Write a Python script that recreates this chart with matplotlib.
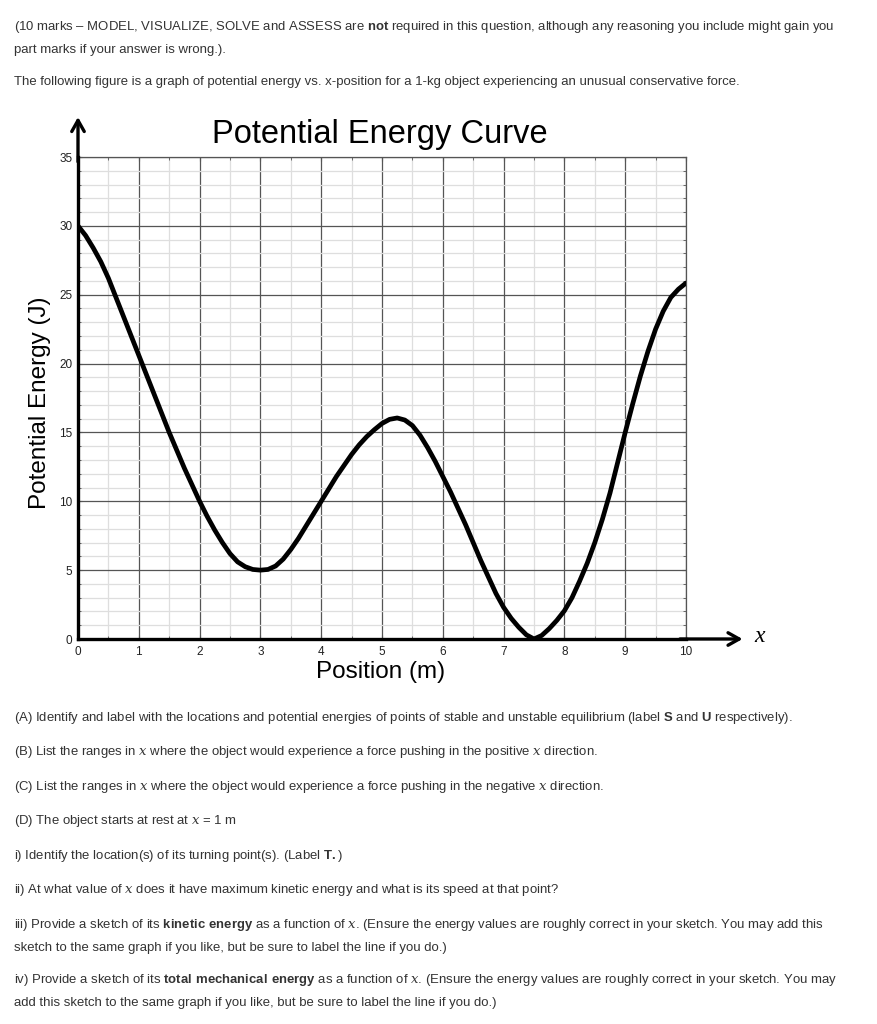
import numpy as np
import matplotlib.pyplot as plt
from matplotlib.ticker import MultipleLocator

# -----------------------------
# Data (every 1/8 m)
# -----------------------------
x_pos = [0, 0.125, 0.25, 0.375, 0.5, 0.625, 0.75, 0.875,
         1.0, 1.125, 1.25, 1.375, 1.5, 1.625, 1.75, 1.875,
         2.0, 2.125, 2.25, 2.375, 2.5, 2.625, 2.75, 2.875,
         3.0, 3.125, 3.25, 3.375, 3.5, 3.625, 3.75, 3.875,
         4.0, 4.125, 4.25, 4.375, 4.5, 4.625, 4.75, 4.875,
         5.0, 5.125, 5.25, 5.375, 5.5, 5.625, 5.75, 5.875,
         6.0, 6.125, 6.25, 6.375, 6.5, 6.625, 6.75, 6.875,
         7.0, 7.125, 7.25, 7.375, 7.5, 7.625, 7.75, 7.875,
         8.0, 8.125, 8.25, 8.375, 8.5, 8.625, 8.75, 8.875,
         9.0, 9.125, 9.25, 9.375, 9.5, 9.625, 9.75, 9.875, 10.0]
U_pot = [30.0, 29.3, 28.4, 27.4, 26.2, 24.8, 23.4, 22.0,
         20.6, 19.2, 17.8, 16.4, 15.0, 13.7, 12.4, 11.2,
         10.0, 8.9, 7.9, 7.0, 6.2, 5.6, 5.25, 5.05,
         5.0, 5.05, 5.3, 5.8, 6.5, 7.3, 8.2, 9.1,
         10.0, 10.9, 11.8, 12.6, 13.4, 14.1, 14.7, 15.2,
         15.65, 15.95, 16.05, 15.9, 15.5, 14.8, 13.9, 12.9,
         11.8, 10.7, 9.5, 8.3, 7.0, 5.7, 4.5, 3.3,
         2.3, 1.5, 0.85, 0.3, 0.0, 0.25, 0.75, 1.35,
         2.05, 3.0, 4.2, 5.5, 7.0, 8.7, 10.6, 12.8,
         15.0, 17.1, 19.1, 20.9, 22.5, 23.8, 24.8, 25.4, 25.85]

x_ticks = list(range(0, 11))
y_ticks = list(range(0, 36, 5))

header_lines = [
    r"(10 marks – MODEL, VISUALIZE, SOLVE and ASSESS are $\mathbf{not}$ required in this question, although any reasoning you include might gain you",
    "part marks if your answer is wrong.).",
    "The following figure is a graph of potential energy vs. x-position for a 1-kg object experiencing an unusual conservative force.",
]
question_lines = [
    (718, r"(A) Identify and label with the locations and potential energies of points of stable and unstable equilibrium (label $\mathbf{S}$ and $\mathbf{U}$ respectively)."),
    (752, r"(B) List the ranges in $x$ where the object would experience a force pushing in the positive $x$ direction."),
    (787, r"(C) List the ranges in $x$ where the object would experience a force pushing in the negative $x$ direction."),
    (821, r"(D) The object starts at rest at $x$ = 1 m"),
    (856, r"i) Identify the location(s) of its turning point(s). (Label $\mathbf{T.}$)"),
    (890, r"ii) At what value of $x$ does it have maximum kinetic energy and what is its speed at that point?"),
    (925, r"iii) Provide a sketch of its $\mathbf{kinetic\ energy}$ as a function of $x$. (Ensure the energy values are roughly correct in your sketch. You may add this"),
    (948, "sketch to the same graph if you like, but be sure to label the line if you do.)"),
    (980, r"iv) Provide a sketch of its $\mathbf{total\ mechanical\ energy}$ as a function of $x$. (Ensure the energy values are roughly correct in your sketch. You may"),
    (1003, "add this sketch to the same graph if you like, but be sure to label the line if you do.)"),
]

plt.rcParams['font.family'] = ['Liberation Sans', 'DejaVu Sans']
plt.rcParams['mathtext.fontset'] = 'custom'
plt.rcParams['mathtext.rm'] = 'Liberation Sans'
plt.rcParams['mathtext.bf'] = 'Liberation Sans:bold'
plt.rcParams['mathtext.it'] = 'DejaVu Serif:italic'

W, H = 878, 1024
fig = plt.figure(figsize=(W / 100, H / 100), dpi=100)

text_color = '#333333'
text_size = 9.45

# page text above the chart
for yy, line in zip([27, 50, 82], header_lines):
    fig.text(14 / W, 1 - yy / H, line, fontsize=text_size, color=text_color,
             va='center', ha='left')

# -----------------------------
# Chart
# -----------------------------
left, right = 78 / W, 686 / W
bottom, top = 1 - 639 / H, 1 - 157 / H
ax = fig.add_axes([left, bottom, right - left, top - bottom])

ax.set_xlim(0, 10)
ax.set_ylim(0, 35)

ax.xaxis.set_major_locator(MultipleLocator(1))
ax.xaxis.set_minor_locator(MultipleLocator(0.5))
ax.yaxis.set_major_locator(MultipleLocator(5))
ax.yaxis.set_minor_locator(MultipleLocator(1))

ax.grid(True, which='minor', color='#dedede', lw=0.9)
ax.grid(True, which='major', color='#555555', lw=0.9)
ax.set_axisbelow(True)

ax.plot(x_pos, U_pot, color='black', lw=3.4, solid_capstyle='round',
        solid_joinstyle='round', zorder=5)

ax.set_xticks(x_ticks)
ax.set_yticks(y_ticks)
ax.tick_params(which='both', direction='in', color='#555555', top=True, right=True,
               labelsize=8.5, labelcolor='#222222')
ax.tick_params(which='major', length=3)
ax.tick_params(which='minor', length=2)
ax.tick_params(axis='x', pad=5)
ax.tick_params(axis='y', pad=4)

for side in ['left', 'bottom']:
    ax.spines[side].set_linewidth(2.4)
    ax.spines[side].set_color('black')
    ax.spines[side].set_zorder(6)
for side in ['top', 'right']:
    ax.spines[side].set_linewidth(0.9)
    ax.spines[side].set_color('#555555')

# axis arrows
ax.annotate('', xy=(0, 1.083), xytext=(0, 0.99), xycoords='axes fraction',
            arrowprops=dict(arrowstyle='->,head_length=0.8,head_width=0.45', lw=2.4,
                            color='black', shrinkA=0, shrinkB=0))
ax.annotate('', xy=(1.093, 0), xytext=(0.99, 0), xycoords='axes fraction',
            arrowprops=dict(arrowstyle='->,head_length=0.8,head_width=0.45', lw=2.4,
                            color='black', shrinkA=0, shrinkB=0))
fig.text(760 / W, 1 - 637 / H, 'x', fontsize=17, family='Liberation Serif',
         style='italic', ha='center', va='center')

fig.text(380 / W, 1 - 134 / H, 'Potential Energy Curve', fontsize=23.5,
         ha='center', va='center')
fig.text(381 / W, 1 - 672 / H, 'Position (m)', fontsize=17.5,
         ha='center', va='center')
fig.text(40 / W, 1 - 403 / H, 'Potential Energy (J)', fontsize=17.5,
         rotation=90, ha='center', va='center')

# page text below the chart
for yy, line in question_lines:
    fig.text(14 / W, 1 - yy / H, line, fontsize=text_size, color=text_color,
             va='center', ha='left')

plt.savefig('out.png', dpi=100)
